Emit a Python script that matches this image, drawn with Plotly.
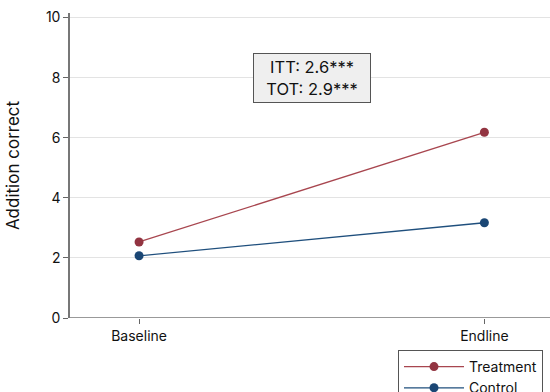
import plotly.graph_objects as go

periods = ["Baseline", "Endline"]
treatment = [2.53, 6.18]
control = [2.07, 3.17]
y_ticks = [0, 2, 4, 6, 8, 10]

W, H = 550, 392
L, R, T, B = 70, 0, 13, 74
xpos = list(range(len(periods)))

fig = go.Figure()
fig.add_trace(go.Scatter(
    x=xpos, y=treatment, mode="lines+markers", name="Treatment",
    line=dict(color="#a8464f", width=1.3),
    marker=dict(color="#923441", size=9),
))
fig.add_trace(go.Scatter(
    x=xpos, y=control, mode="lines+markers", name="Control",
    line=dict(color="#1f4f7d", width=1.3),
    marker=dict(color="#1a4674", size=9),
))

fig.add_annotation(
    xref="paper", yref="paper",
    x=(312 - L) / (W - L - R), y=1 - (78 - T) / (H - T - B),
    xanchor="center", yanchor="middle",
    text="ITT: 2.6***<br>TOT: 2.9***", showarrow=False,
    font=dict(family="Inter, Arial, sans-serif", size=16.5, color="#111"),
    bgcolor="#efefef", bordercolor="#555", borderwidth=1, borderpad=0,
    width=116, height=48, align="center",
)

fig.update_layout(
    width=W, height=H,
    margin=dict(l=L, r=R, t=T, b=B, autoexpand=False),
    plot_bgcolor="white", paper_bgcolor="white",
    font=dict(family="Inter, Arial, sans-serif", size=14, color="#111"),
    legend=dict(
        x=(398 - L) / (W - L - R), y=-(350 - (H - B)) / (H - T - B),
        xanchor="left", yanchor="top",
        bordercolor="#555", borderwidth=1, bgcolor="white",
        font=dict(size=14), tracegroupgap=0, itemwidth=60,
    ),
    showlegend=True,
    xaxis=dict(
        range=[-0.2, 1.19], tickvals=xpos, ticktext=periods,
        showgrid=False, zeroline=False,
        showline=False, ticks="outside", ticklen=5, tickcolor="#666",
    ),
    yaxis=dict(
        range=[0, 10.15], tickvals=y_ticks,
        showgrid=True, gridcolor="#e3e3e3", gridwidth=1.2, zeroline=False,
        showline=True, linecolor="#777", linewidth=1.5,
        ticks="outside", ticklen=5, tickcolor="#666",
        title=dict(text="Addition correct", font=dict(size=17), standoff=22),
    ),
)
# bottom axis line along y = 0
fig.add_shape(type="line", xref="paper", yref="y", x0=0, x1=1, y0=0, y1=0,
              line=dict(color="#777", width=1.5))

fig.write_html("out.html")
